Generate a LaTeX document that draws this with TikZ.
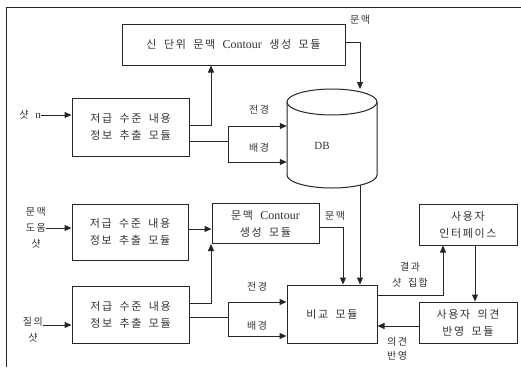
\documentclass[tikz,border=0pt]{standalone}
\usepackage{fontspec}
\newfontfamily\cjk[LetterSpace=15,WordSpace=1.8]{Noto Sans CJK KR}
\newfontfamily\lat{Liberation Serif}
\usetikzlibrary{arrows.meta}
\tikzset{
  box/.style={draw=black!85, line width=1pt, fill=white, align=center, inner sep=0pt,
    font=\cjk\fontsize{11}{17}\selectfont, text=black!80},
  lbl/.style={align=center, inner sep=0pt, font=\cjk\fontsize{10}{16}\selectfont, text=black!80},
  ln/.style={draw=black!85, line width=1pt},
  arr/.style={ln, -{Triangle[length=7pt,width=6pt]}},
}
\newcommand{\ctr}{{\lat\fontsize{12}{17}\selectfont Contour}}
\begin{document}
\begin{tikzpicture}[x=1pt,y=-1pt]
\useasboundingbox (0,0) rectangle (521,367);
\draw[black!85, line width=1pt] (6,367) -- (6,7) -- (521,7);

% DB cylinder
\node[minimum width=90pt, minimum height=99pt, inner sep=0pt] (db) at (332,138.5) {};
\draw[ln, fill=white] (287,102) -- (287,175) arc[start angle=180, end angle=360, x radius=45pt, y radius=13pt] -- (377,102);
\draw[ln, fill=white] (332,102) ellipse[x radius=45pt, y radius=13pt];
\node[box, draw=none, fill=none, font=\lat\fontsize{11}{17}\selectfont] at (322,146) {DB};

\node[box, minimum width=223pt, minimum height=41pt] (top) at (233.5,44.5) {신 단위 문맥 \ctr{} 생성 모듈};
\node[box, minimum width=117pt, minimum height=58pt] (ex1) at (130.5,127) {저급 수준 내용\\정보 추출 모듈};
\node[box, minimum width=116pt, minimum height=56pt] (ex2) at (130,232) {저급 수준 내용\\정보 추출 모듈};
\node[box, minimum width=117pt, minimum height=57pt] (ex3) at (130.5,314.5) {저급 수준 내용\\정보 추출 모듈};
\node[box, minimum width=107pt, minimum height=40pt] (ctx) at (265.5,223.5) {문맥 \ctr\\생성 모듈};
\node[box, minimum width=90pt, minimum height=58pt] (cmp) at (332,314) {비교 모듈};
\node[box, minimum width=98pt, minimum height=41pt] (ui) at (468,224.5) {사용자\\인터페이스};
\node[box, minimum width=98pt, minimum height=41pt] (fb) at (468,322.5) {사용자 의견\\반영 모듈};

% inputs
\node[lbl, anchor=east] (in1) at (41,115) {샷 {\lat\fontsize{11}{16}\selectfont n}};
\node[lbl, anchor=east] (in2) at (46,228) {문맥\\도움\\샷};
\node[lbl, anchor=north east] (in3) at (43,317) {질의\\샷};
\draw[arr] (in1.east) -- (in1.east -| ex1.west);
\draw[arr] (in2.east) -- (in2.east -| ex2.west);
\draw[arr] (43,325) -- (ex3.west |- 0,325);

% top section
\draw[arr] (ex1.east |- 0,125) -| (211,0 |- top.south);
\coordinate (j1) at (228,141);
\draw[ln] (ex1.east |- j1) -- (j1);
\draw[arr] (j1) |- (db.west |- 0,126);
\draw[arr] (j1) |- (db.west |- 0,162);
\node[lbl] at (259,110) {전경};
\node[lbl] at (259,148) {배경};
\draw[arr] (top.east |- 0,42) -| (360,89);
\node[lbl] at (360,20) {문맥};

% middle
\draw[arr] (ex2.east |- 0,229) -- (ctx.west |- 0,229);
\draw[arr] (ex3.east |- 0,303) -| (211,0 |- ctx.south);
\coordinate (j2) at (228,317);
\draw[ln] (ex3.east |- j2) -- (j2);
\draw[arr] (j2) |- (cmp.west |- 0,302);
\draw[arr] (j2) |- (cmp.west |- 0,336);
\node[lbl] at (257,287) {전경};
\node[lbl] at (257,326) {배경};
\draw[arr] (ctx.east |- 0,227) -| (343,0 |- cmp.north);
\node[lbl] at (335,216) {문맥};
\draw[arr] (360,185) -- (360,0 |- cmp.north);

% right
\draw[arr] (cmp.east |- 0,295) -| (443,0 |- ui.south);
\node[lbl] at (410,275) {결과\\샷 집합};
\draw[arr] (475,0 |- ui.south) -- (475,0 |- fb.north);
\draw[arr] (fb.west |- 0,326) -- (cmp.east |- 0,326);
\node[lbl, font=\cjk\fontsize{10}{14}\selectfont] at (397,349) {의견\\반영};
\end{tikzpicture}
\end{document}
